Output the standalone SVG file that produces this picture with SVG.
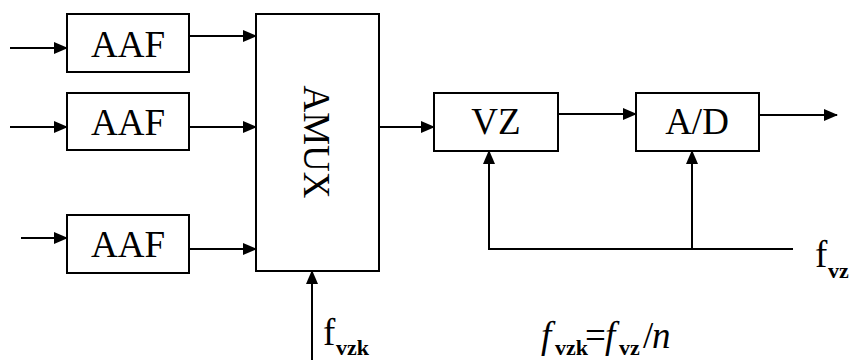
<svg xmlns="http://www.w3.org/2000/svg" width="853" height="360" viewBox="0 0 853 360">
<style>
.box{fill:#fff;stroke:#000;stroke-width:2}
.lbl{font-family:"Liberation Serif","Times New Roman","DejaVu Serif",serif;font-size:37px;fill:#000}
.ln{fill:none;stroke:#000;stroke-width:2}
.sub{font-weight:bold;font-size:22px}
</style>
<defs>
<marker id="ah" markerUnits="userSpaceOnUse" markerWidth="14" markerHeight="12" refX="13" refY="6" orient="auto">
<path d="M0,0 L14,6 L0,12 z" fill="#000"/>
</marker>
</defs>
<rect width="853" height="360" fill="#fff"/>
<g id="connectors">
<line class="ln" x1="10" y1="48" x2="67" y2="48" marker-end="url(#ah)"/>
<line class="ln" x1="10" y1="127" x2="67" y2="127" marker-end="url(#ah)"/>
<line class="ln" x1="21" y1="238" x2="67" y2="238" marker-end="url(#ah)"/>
<line class="ln" x1="189" y1="36" x2="256" y2="36" marker-end="url(#ah)"/>
<line class="ln" x1="189" y1="127" x2="256" y2="127" marker-end="url(#ah)"/>
<line class="ln" x1="189" y1="249" x2="256" y2="249" marker-end="url(#ah)"/>
<line class="ln" x1="379" y1="127" x2="434" y2="127" marker-end="url(#ah)"/>
<line class="ln" x1="558" y1="114" x2="636" y2="114" marker-end="url(#ah)"/>
<line class="ln" x1="759" y1="115" x2="837" y2="115" marker-end="url(#ah)"/>
<line class="ln" x1="489" y1="250" x2="489" y2="151" marker-end="url(#ah)"/>
<line class="ln" x1="692" y1="249" x2="692" y2="151" marker-end="url(#ah)"/>
<line class="ln" x1="489" y1="249" x2="793" y2="249"/>
<line class="ln" x1="312" y1="360" x2="312" y2="271" marker-end="url(#ah)"/>
</g>
<g id="aaf1"><rect class="box" x="67" y="14" width="122" height="58"/><text class="lbl" x="128" y="57" text-anchor="middle">AAF</text></g>
<g id="aaf2"><rect class="box" x="67" y="93" width="122" height="57"/><text class="lbl" x="128" y="135" text-anchor="middle">AAF</text></g>
<g id="aaf3"><rect class="box" x="67" y="215" width="122" height="58"/><text class="lbl" x="128" y="257" text-anchor="middle">AAF</text></g>
<g id="amux"><rect class="box" x="256" y="14" width="123" height="257"/><text class="lbl" transform="translate(304,142) rotate(90)" text-anchor="middle">AMUX</text></g>
<g id="vz"><rect class="box" x="434" y="93" width="124" height="58"/><text class="lbl" x="496" y="134" text-anchor="middle">VZ</text></g>
<g id="ad"><rect class="box" x="636" y="93" width="123" height="58"/><text class="lbl" x="697" y="134" text-anchor="middle">A/D</text></g>
<g id="fvz-label"><text class="lbl" x="815" y="267">f<tspan class="sub" x="828" y="278">vz</tspan></text></g>
<g id="fvzk-label"><text class="lbl" x="323" y="345">f<tspan class="sub" x="336" y="355">vzk</tspan></text></g>
<g id="formula"><text class="lbl" x="541" y="348"><tspan font-style="italic">f</tspan><tspan class="sub" x="555" y="355">vzk</tspan><tspan x="585" y="348">=</tspan><tspan font-style="italic" x="605">f</tspan><tspan class="sub" x="619" y="355">vz</tspan><tspan x="643" y="348">/</tspan><tspan font-style="italic" x="652">n</tspan></text></g>
</svg>
